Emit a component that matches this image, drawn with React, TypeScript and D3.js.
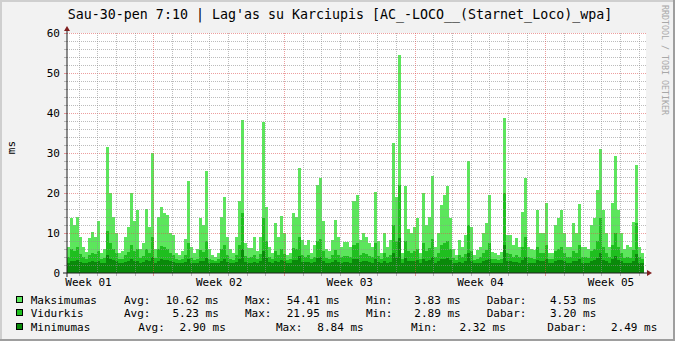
import React from "react";
import * as d3 from "d3";

const maxVals = [
  6.6, 13.7, 12, 13.9, 9, 6.5, 5.3, 8.7, 10.2, 9,
  13, 5, 6, 31.6, 20, 14, 10, 5, 5.5, 9,
  11.6, 19.9, 13, 15.7, 6, 7.5, 16, 11.6, 30, 6,
  14, 16.5, 15, 14.5, 10, 9.5, 5, 4.5, 5.5, 8.5,
  23, 6.6, 5, 6, 13.7, 12, 25.6, 6, 4.5, 4,
  5, 14, 19, 9, 6, 5, 9, 18, 38.2, 7.4,
  6.2, 6.2, 9, 5.5, 9, 37.8, 16.6, 6.5, 5, 12.4,
  9, 14.3, 9.9, 4.5, 5, 15, 14, 26.2, 8.3, 7,
  8.3, 5, 7, 22, 23.7, 13, 6, 5.5, 8.3, 13.3,
  9, 6.5, 7.8, 7.8, 6.5, 18, 19.5, 8.3, 10, 9,
  7.4, 6.5, 20.2, 8, 5, 10, 6.5, 8.3, 32.4, 19,
  54.41, 5, 21.8, 11, 10, 11.6, 13.8, 5, 19.9, 12,
  14, 24.2, 6.5, 9.9, 17, 19.5, 21.8, 13.7, 6, 4.5,
  8.3, 6.6, 9.5, 28, 11.6, 4.5, 5.75, 6.6, 10, 12.4,
  19.5, 5.3, 5, 4.5, 5.3, 38.7, 9.5, 9.5, 7, 8.7,
  6.6, 15.3, 23.8, 6.6, 6, 5.75, 15.75, 10, 10, 17.4,
  5, 5, 12, 13.7, 15.75, 10, 6.6, 6.6, 12.4, 10,
  17.25, 6.6, 6.6, 6, 12, 13.7, 20.75, 30.9, 15.75, 10,
  6.6, 17.4, 29.25, 15.75, 10, 6, 7, 6.5, 12.8, 27,
  6.6, 5,
];

const avgVals = [
  4.0, 6.0, 5.5, 6.5, 4.8, 4.0, 3.5, 4.5, 5.0, 4.8,
  5.5, 3.4, 3.8, 10.5, 7.5, 6.0, 5.0, 3.5, 3.6, 4.5,
  5.2, 7.0, 5.5, 6.0, 3.8, 4.2, 6.0, 5.0, 9.0, 3.8,
  6.0, 6.8, 6.5, 6.0, 5.0, 4.6, 3.4, 3.3, 3.5, 4.4,
  7.5, 3.8, 3.3, 3.6, 5.8, 5.2, 8.0, 3.6, 3.2, 3.1,
  3.4, 6.0, 7.0, 4.5, 3.6, 3.3, 4.6, 7.0, 15.0, 4.2,
  3.8, 3.9, 4.5, 3.5, 4.8, 13.7, 8.0, 4.0, 3.4, 5.5,
  4.6, 6.0, 4.8, 3.2, 3.4, 6.2, 6.0, 9.0, 4.4, 4.0,
  4.4, 3.4, 4.0, 8.0, 8.5, 5.5, 3.8, 3.6, 4.4, 5.8,
  4.6, 3.9, 4.2, 4.3, 3.9, 7.0, 7.5, 4.4, 5.0, 4.7,
  4.2, 3.9, 7.5, 4.2, 3.4, 5.0, 3.9, 4.4, 12.0, 8.0,
  21.95, 3.4, 8.0, 5.4, 5.0, 5.5, 6.0, 3.4, 7.5, 5.6,
  6.2, 8.5, 3.9, 5.0, 7.0, 7.5, 8.0, 6.0, 3.7, 3.3,
  4.4, 3.9, 4.8, 12.0, 5.5, 3.3, 3.6, 3.9, 5.0, 5.8,
  7.5, 3.5, 3.4, 3.3, 3.5, 20.0, 5.0, 4.8, 4.0, 4.5,
  3.9, 6.5, 9.0, 3.9, 3.7, 3.6, 6.5, 5.0, 5.0, 7.0,
  3.4, 3.4, 5.6, 6.0, 6.5, 5.0, 3.9, 3.9, 5.6, 5.0,
  7.0, 3.9, 3.9, 3.7, 5.5, 6.0, 8.0, 13.7, 6.5, 5.0,
  3.9, 7.0, 10.0, 6.5, 5.0, 3.7, 4.0, 3.8, 5.8, 12.4,
  3.9, 3.4,
];

const minVals = [
  2.6, 3.0, 3.0, 3.2, 2.8, 2.6, 2.5, 2.7, 2.9, 2.8,
  3.0, 2.5, 2.6, 4.5, 3.5, 3.2, 2.9, 2.5, 2.5, 2.7,
  2.9, 3.4, 3.0, 3.1, 2.6, 2.7, 3.2, 2.9, 4.0, 2.6,
  3.1, 3.4, 3.3, 3.2, 2.9, 2.8, 2.5, 2.4, 2.5, 2.7,
  3.6, 2.6, 2.5, 2.6, 3.1, 3.0, 3.8, 2.6, 2.4, 2.4,
  2.5, 3.1, 3.4, 2.8, 2.6, 2.5, 2.8, 3.4, 6.0, 2.7,
  2.6, 2.6, 2.8, 2.5, 2.9, 5.5, 3.8, 2.7, 2.5, 3.0,
  2.8, 3.2, 2.9, 2.4, 2.5, 3.2, 3.2, 4.2, 2.8, 2.7,
  2.8, 2.5, 2.7, 3.8, 4.0, 3.0, 2.6, 2.5, 2.8, 3.2,
  2.8, 2.6, 2.7, 2.7, 2.6, 3.5, 3.6, 2.8, 3.0, 2.9,
  2.7, 2.6, 3.6, 2.7, 2.5, 3.0, 2.6, 2.8, 5.0, 4.0,
  8.84, 2.5, 3.8, 3.1, 3.0, 3.1, 3.3, 2.5, 3.6, 3.1,
  3.3, 4.0, 2.6, 3.0, 3.5, 3.6, 3.8, 3.2, 2.6, 2.4,
  2.8, 2.6, 2.9, 5.0, 3.1, 2.4, 2.5, 2.6, 3.0, 3.2,
  3.6, 2.5, 2.5, 2.4, 2.5, 7.0, 3.0, 2.9, 2.7, 2.8,
  2.6, 3.3, 4.0, 2.6, 2.5, 2.5, 3.3, 3.0, 3.0, 3.5,
  2.5, 2.5, 3.1, 3.2, 3.3, 3.0, 2.6, 2.6, 3.1, 3.0,
  3.5, 2.6, 2.6, 2.5, 3.0, 3.2, 3.8, 5.0, 3.3, 3.0,
  2.6, 3.5, 4.2, 3.3, 3.0, 2.5, 2.6, 2.6, 3.1, 4.8,
  2.6, 2.4,
];

const yTickValues = [0, 10, 20, 30, 40, 50, 60];
const weekLabels = ["Week 01", "Week 02", "Week 03", "Week 04", "Week 05"];
const weekLabelDays = [1.15, 8.15, 15.15, 22.15, 29.15];
const SPAN_DAYS = 30.92;
const FIRST_DAY_LINE = 0.63;

const seriesNames = ["Maksimumas", "Vidurkis", "Minimumas"];
const seriesColors = ["#5ce65c", "#1fbf1f", "#0a8a0a"];
const legendAvg = ["10.62 ms", "5.23 ms", "2.90 ms"];
const legendMax = ["54.41 ms", "21.95 ms", "8.84 ms"];
const legendMin = ["3.83 ms", "2.89 ms", "2.32 ms"];
const legendCur = ["4.53 ms", "3.20 ms", "2.49 ms"];
const TITLE = "Sau-30-pen 7:10 | Lag'as su Karciupis [AC_-LOCO__(Starnet_Loco)_wpa]";
const Y_LABEL = "ms";
const WATERMARK = "RRDTOOL / TOBI OETIKER";

const FONT = "'DejaVu Sans Mono', monospace";

export default function App() {
  const W = 675, H = 341;
  const L = 67, R = 644, T = 33, B = 273;
  const N = maxVals.length;
  const xi = d3.scaleLinear().domain([0, N]).range([L, R]);
  const xt = d3.scaleLinear().domain([0, SPAN_DAYS]).range([L, R]);
  const y = d3.scaleLinear().domain([0, 60]).range([B, T]);

  const mkArea = (vals: number[]) =>
    d3
      .area<number>()
      .x((_, i) => xi(i))
      .y0(B)
      .y1((d) => y(d))
      .curve(d3.curveStepAfter)([...vals, vals[vals.length - 1]]) || "";

  const dayLines = d3
    .range(0, 31)
    .map((k) => ({ d: FIRST_DAY_LINE + k, major: (k - 4) % 7 === 0 }))
    .filter((o) => o.d < SPAN_DAYS);
  const hLines = d3.range(2, 61, 2).map((v) => ({ v, major: v % 10 === 0 }));

  const gridCol = "rgba(143,143,143,0.6)";
  const mgridCol = "rgba(222,79,79,0.55)";

  const rowBase = [304, 317, 331];
  const colX = [
    [124, 165.7, 245, 286.7, 366, 414.3, 486.7, 550],
    [124, 172.4, 245, 286.7, 366, 414.3, 486.7, 550],
    [138.3, 179.5, 276, 317.3, 411, 459.5, 547.3, 611],
  ];

  return (
    <svg width={W} height={H} style={{ position: "absolute", left: 0, top: 0, display: "block" }} fontFamily={FONT}>
      <rect x={0} y={0} width={W} height={H} fill="#f2f2f2" />
      <rect x={0} y={0} width={W} height={2} fill="#cfcfcf" />
      <rect x={0} y={0} width={2} height={H} fill="#cfcfcf" />
      <rect x={0} y={H - 2} width={W} height={2} fill="#9e9e9e" />
      <rect x={W - 2} y={0} width={2} height={H} fill="#9e9e9e" />

      <rect x={L} y={T} width={R - L + 2} height={B - T} fill="#ffffff" />

      <g shapeRendering="crispEdges">
        <path d={mkArea(maxVals)} fill={seriesColors[0]} />
        <path d={mkArea(avgVals)} fill={seriesColors[1]} />
        <path d={mkArea(minVals)} fill={seriesColors[2]} />
      </g>

      <g shapeRendering="crispEdges">
        {hLines.map(({ v, major }) => {
          const py = Math.round(y(v)) + 0.5;
          const c = major ? mgridCol : gridCol;
          return (
            <g key={"h" + v}>
              <line x1={L} x2={R + 3} y1={py} y2={py} stroke={c} strokeDasharray="1,1" />
              <line x1={L - 3} x2={L} y1={py} y2={py} stroke={c} />
            </g>
          );
        })}
        {dayLines.map(({ d, major }) => {
          const px = Math.round(xt(d)) + 0.5;
          const c = major ? mgridCol : gridCol;
          return (
            <g key={"v" + d}>
              <line x1={px} x2={px} y1={T} y2={B} stroke={c} strokeDasharray="1,1" />
              <line x1={px} x2={px} y1={B} y2={B + 3} stroke={c} />
            </g>
          );
        })}
      </g>

      <line x1={L} x2={L} y1={B + 4} y2={T - 4} stroke="#1f1f1f" strokeWidth={1} />
      <line x1={L - 4} x2={R + 4} y1={B} y2={B} stroke="#1f1f1f" strokeWidth={1} />
      <path d={`M${L},${T - 7} L${L - 3},${T - 2} L${L + 3},${T - 2} Z`} fill="#801f1f" />
      <path d={`M${R + 8},${B} L${R + 3},${B - 3} L${R + 3},${B + 3} Z`} fill="#801f1f" />

      {yTickValues.map((v) => (
        <text key={"yl" + v} x={60} y={y(v)} dy="0.36em" textAnchor="end" fontSize={11} fill="#000">
          {v}
        </text>
      ))}
      {weekLabels.map((s, i) => (
        <text key={s} x={xt(weekLabelDays[i])} y={286} textAnchor="middle" fontSize={11} fill="#000">
          {s}
        </text>
      ))}

      <text x={0} y={0} transform={`translate(15,147.5) rotate(-90)`} textAnchor="middle" fontSize={11} fill="#000">
        {Y_LABEL}
      </text>

      <text x={340} y={19} textAnchor="middle" fontSize={13.3} fill="#000">
        {TITLE}
      </text>

      <text x={0} y={0} transform={`translate(662,5) rotate(90)`} fontSize={8.3} fill="#a8a8a8">
        {WATERMARK}
      </text>

      {seriesNames.map((name, r) => {
        const by = rowBase[r];
        const cx = colX[r];
        return (
          <g key={name} fontSize={11} fill="#000" style={{ whiteSpace: "pre" }}>
            <rect x={16.5} y={by - 7.5} width={6} height={6} fill={seriesColors[r]} stroke="#000" strokeWidth={1} shapeRendering="crispEdges" />
            <text x={30.7} y={by}>{name}</text>
            <text x={cx[0]} y={by}>Avg:</text>
            <text x={cx[1]} y={by}>{legendAvg[r]}</text>
            <text x={cx[2]} y={by}>Max:</text>
            <text x={cx[3]} y={by}>{legendMax[r]}</text>
            <text x={cx[4]} y={by}>Min:</text>
            <text x={cx[5]} y={by}>{legendMin[r]}</text>
            <text x={cx[6]} y={by}>Dabar:</text>
            <text x={cx[7]} y={by}>{legendCur[r]}</text>
          </g>
        );
      })}
    </svg>
  );
}
